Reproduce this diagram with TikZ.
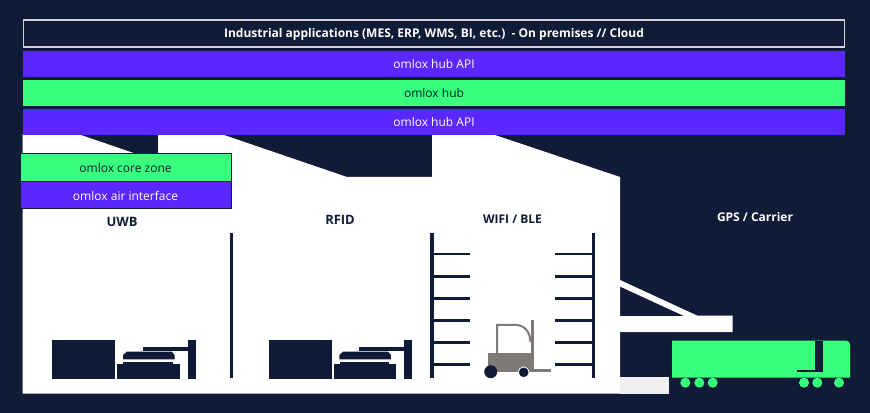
\documentclass[tikz,border=0pt]{standalone}
\usepackage{fontspec}
\setmainfont{Open Sans}
\definecolor{navy}{HTML}{0F1B37}
\definecolor{violet}{HTML}{5A28FF}
\definecolor{mint}{HTML}{38FF7C}
\definecolor{fork}{HTML}{7F7A78}
\definecolor{pale}{HTML}{F0F0F0}
\tikzset{
  bar/.style={font=\fontsize{9pt}{11pt}\selectfont},
  onviolet/.style={bar,text=white},
  onmint/.style={bar,text=navy},
  head/.style={font=\fontsize{9pt}{11pt}\selectfont\bfseries},
  caps/.style={font=\fontsize{9.7pt}{11pt}\selectfont\bfseries},
  ink/.style={fill=navy,draw=none},
}
\newcommand{\machine}[1]{
  \begin{scope}[xshift=#1*0.75pt]
    \fill[ink] (52.3,339.7) rectangle (115.3,378.5);
    \fill[ink] (117.3,364.3) rectangle (180,378.5);
    \fill[ink] (123.3,361.7) rectangle (173,364.6);
    \fill[ink] (123,359.3) -- (123,355) -- (127,351.5) -- (171.7,351.5) -- (174.5,355) -- (174.5,359.3) -- cycle;
    \fill[ink] (142.7,347.3) rectangle (190,351);
    \fill[ink] (188,339.7) rectangle (195.7,378.5);
  \end{scope}
}
\begin{document}
\begin{tikzpicture}[x=0.75pt,y=-0.75pt]
\useasboundingbox (0,0) rectangle (870,413);
\fill[navy] (0,0) rectangle (870,413);
% building
\fill[white] (22.5,134) -- (78,134) -- (135,153.5) -- (158,153.5) -- (158,134) -- (221,134)
  -- (347,177) -- (432,177) -- (432,134) -- (492,134) -- (620,177) -- (620,393.5) -- (22.5,393.5) -- cycle;
% dock
\fill[white] (620,280) -- (697,315.5) -- (732.5,315.5) -- (732.5,332) -- (620,332) -- (620,316) -- (684,316) -- (620,286.5) -- cycle;
\fill[pale] (620,377) rectangle (668.7,393.5);
% bars
\fill[violet] (23,51) rectangle (845,76.7);
\fill[mint] (23,80) rectangle (845,105.7);
\fill[violet] (23,109) rectangle (845,134.7);
\draw[white!80!navy,line width=0.9pt] (23.3,20) rectangle (844.5,47);
\node[head,text=white] (apps) at (434,34.3) {Industrial applications (MES, ERP, WMS, BI, etc.)~~- On premises // Cloud};
\node[onviolet] (api1) at (434,64) {omlox hub API};
\node[onmint] (hub) at (434,93) {omlox hub};
\node[onviolet] (api2) at (434,122) {omlox hub API};
% zones
\fill[mint,draw=navy,line width=0.7pt] (20.5,153.5) rectangle (231.5,181.3);
\fill[violet,draw=navy,line width=0.7pt] (20,181.7) rectangle (231.5,208.7);
\node[onmint] (core) at (125.5,168) {omlox core zone};
\node[onviolet] (air) at (125.5,195.5) {omlox air interface};
% labels
\node[caps,text=navy] (uwb) at (122,222) {UWB};
\node[caps,text=navy] (rfid) at (340,219.5) {RFID};
\node[head,text=navy] (wifi) at (512.5,219.5) {WIFI / BLE};
\node[head,text=white] (gps) at (755,217.5) {GPS / Carrier};
% divider and machines
\fill[ink] (230,233) rectangle (232.7,378);
\machine{0}
\machine{216.3}
% racks
\fill[ink] (429.7,233) rectangle (434,378);
\fill[ink] (591.5,233) rectangle (595,378);
\foreach \s in {254,276.3,298.3,320.3,342.3,364.3}{
  \fill[ink] (434,\s-1.3) rectangle (470,\s+1.3);
  \fill[ink] (555.3,\s-1.3) rectangle (592,\s+1.3);
}
% forklift
\fill[fork] (488.3,353.3) rectangle (534,372.3);
\fill[fork] (531,320) rectangle (534,372.3);
\fill[fork] (534,369) rectangle (550.7,372.3);
\draw[fork,line width=1.5pt] (497,353.3) -- (497,324.9) -- (515,324.9) .. controls (524,324.9) and (530,331) .. (530.5,342);
\fill[navy] (490.7,371.7) circle (6.5);
\fill[navy,draw=white,line width=0.6pt] (523.7,372.3) circle (5.4);
% truck
\fill[mint] (672,340.7) -- (846,340.7) .. controls (848.5,340.7) and (850,342.2) .. (850,344.7) -- (850,377.7) -- (672,377.7) -- cycle;
\fill[ink] (815,340.7) rectangle (823,371.3);
\fill[ink] (797,369.8) rectangle (823,371.5);
\foreach \w in {685.3,699.3,712.7,804,817.3,839}{
  \fill[mint] (\w,382.7) circle (5);
}
\end{tikzpicture}
\end{document}
